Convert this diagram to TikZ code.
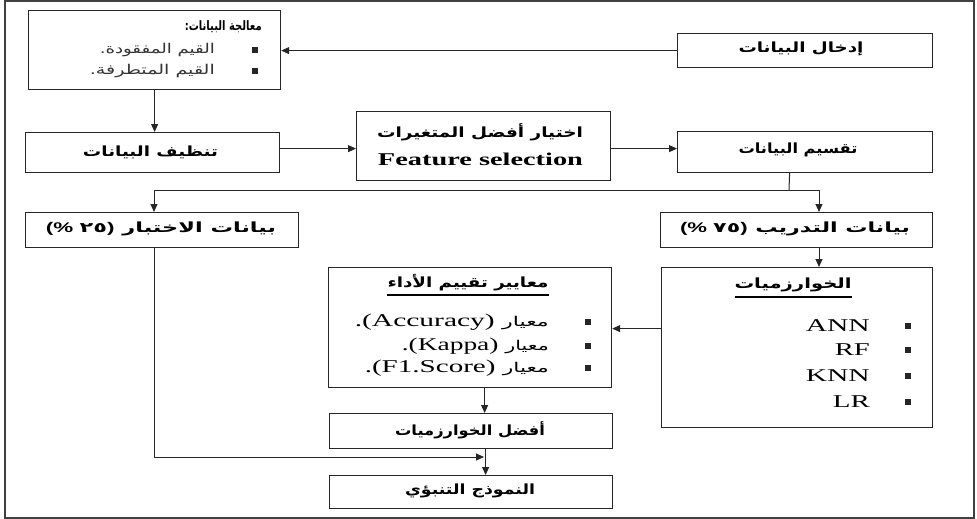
\documentclass[tikz,border=0pt]{standalone}
\usepackage{fontspec}
\usepackage{graphicx}
\setmainfont{Liberation Serif}
\newfontfamily\ar[Script=Arabic]{DejaVu Sans}
\newfontfamily\ls{Liberation Sans}
\TeXXeTstate=1
\usetikzlibrary{arrows.meta}
\newcommand\W[2]{\resizebox{#1pt}{\height}{#2}}
\begin{document}
\begin{tikzpicture}[x=1pt,y=-1pt,
  box/.style={draw=black!85, line width=1.2pt, inner sep=0pt, anchor=north west},
  txt/.style={inner sep=0pt, font=\ar\bfseries\fontsize{14}{16}\selectfont},
  itm/.style={inner sep=0pt, font=\ar\fontsize{13.5}{15}\selectfont, text=black!80},
  lat/.style={inner sep=0pt, font=\fontsize{18}{20}\selectfont},
  ln/.style={draw=black!85, line width=1pt},
  arr/.style={ln, -{Triangle[length=8pt,width=7pt]}},
  bul/.style={fill=black!85}]
\useasboundingbox (0,0) rectangle (977,519);
\draw[line width=2pt, draw=black!75] (5,1) rectangle (974,518);

% boxes
\node[box, minimum width=252pt, minimum height=79pt] (proc) at (28,10) {};
\node[box, minimum width=255pt, minimum height=34pt] (in) at (677,33) {};
\node[box, minimum width=254pt, minimum height=40pt] (clean) at (25,132) {};
\node[box, minimum width=254pt, minimum height=69pt] (feat) at (356,111) {};
\node[box, minimum width=255pt, minimum height=41pt] (split) at (677,131) {};
\node[box, minimum width=273pt, minimum height=35pt] (test) at (25,212) {};
\node[box, minimum width=272pt, minimum height=35pt] (train) at (660,212) {};
\node[box, minimum width=271pt, minimum height=160pt] (algo) at (661,267) {};
\node[box, minimum width=283pt, minimum height=120pt] (eval) at (328,267) {};
\node[box, minimum width=283pt, minimum height=35pt] (best) at (329,413) {};
\node[box, minimum width=283pt, minimum height=33pt] (pred) at (329,475) {};

% texts
\node[txt, anchor=east, font=\ar\bfseries\fontsize{13}{15}\selectfont] (t1) at (262,27) {\W{77}{:\beginR معالجة البيانات\endR}};
\node[itm, anchor=east] (t2) at (215,50) {\W{115}{.\beginR القيم المفقودة\endR}};
\node[itm, anchor=east] (t3) at (215,71) {\W{125}{.\beginR القيم المتطرفة\endR}};
\fill[bul] (252,47) rectangle ++(6,6);
\fill[bul] (252,68) rectangle ++(6,6);

\node[txt] (tin) at (801,49) {\W{125}{\beginR إدخال البيانات\endR}};
\node[txt] (tclean) at (150.5,152) {\W{135}{\beginR تنظيف البيانات\endR}};
\node[txt] (tfeat) at (480,132) {\W{206}{\beginR اختيار أفضل المتغيرات\endR}};
\node[lat, font=\bfseries\fontsize{18}{20}\selectfont] (tfeat2) at (480.5,159) {\W{205}{Feature selection}};
\node[txt] (tsplit) at (798,150) {\W{119}{\beginR تقسيم البيانات\endR}};
\node[txt] (ttest) at (161,229) {\W{230}{{\ls\bfseries(\%\ }\mbox{٢}\mbox{٥}{\ls\bfseries)}\ \beginR بيانات الاختبار\endR}};
\node[txt] (ttrain) at (795,229) {\W{230}{{\ls\bfseries(\%\ }\mbox{٧}\mbox{٥}{\ls\bfseries)}\ \beginR بيانات التدريب\endR}};

\node[txt] (talgo) at (793,285) {\W{117}{\beginR الخوارزميات\endR}};
\draw[line width=1.6pt] (735,297) -- (852,297);
\node[lat, anchor=east] (a1) at (870,326) {\W{64}{ANN}};
\node[lat, anchor=east] (a2) at (870,350) {\W{35}{RF}};
\node[lat, anchor=east] (a3) at (870,376) {\W{64}{KNN}};
\node[lat, anchor=east] (a4) at (870,402) {\W{37}{LR}};
\foreach \yy in {326,350,376,402} \fill[bul] (905,\yy-3) rectangle ++(6,6);

\node[txt] (teval) at (468,283) {\W{161}{\beginR معايير تقييم الأداء\endR}};
\draw[line width=1.6pt] (387,295) -- (549,295);
\node[lat, anchor=east] (e1) at (549,322) {\W{194}{.(Accuracy)\ {\ar\fontsize{13.5}{15}\selectfont معيار}}};
\node[lat, anchor=east] (e2) at (549,346) {\W{147}{.(Kappa)\ {\ar\fontsize{13.5}{15}\selectfont معيار}}};
\node[lat, anchor=east] (e3) at (549,368) {\W{184}{.(F1.Score)\ {\ar\fontsize{13.5}{15}\selectfont معيار}}};
\foreach \yy in {322,346,368} \fill[bul] (585,\yy-3) rectangle ++(6,6);

\node[txt] (tbest) at (470,430) {\W{150}{\beginR أفضل الخوارزميات\endR}};
\node[txt] (tpred) at (470,491) {\W{130}{\beginR النموذج التنبؤي\endR}};

% connectors
\draw[arr] (in.west) -- (in.west -| proc.east);
\draw[arr] (proc.south) -- (proc.south |- clean.north);
\draw[arr] ([yshift=4pt]clean.east) -- ([yshift=4pt]clean.east -| feat.west);
\draw[arr] ([yshift=-2.5pt]feat.east) -- ([yshift=-2.5pt]feat.east -| split.west);
\coordinate (j) at (789,190);
\coordinate (jl) at (154,190);
\coordinate (jr) at (819,190);
\draw[ln] ([xshift=-15.5pt]split.south) -- (j);
\draw[ln] (jl) -- (jr);
\draw[arr] (jl) -- (jl |- test.north);
\draw[arr] (jr) -- (jr |- train.north);
\draw[arr] (train.south -| jr) -- (jr |- algo.north);
\draw[arr] ([yshift=19pt]algo.west) -- ([yshift=19pt]algo.west -| eval.east);
\draw[arr] ([xshift=14.5pt]eval.south) -- ([xshift=14.5pt]eval.south |- best.north);
\coordinate (k) at (484,457);
\draw[ln] (test.south -| jl) -- (jl |- k);
\draw[arr] (jl |- k) -- (k);
\draw[arr] ([xshift=14.5pt]best.south) -- ([xshift=14.5pt]best.south |- pred.north);
\end{tikzpicture}
\end{document}
